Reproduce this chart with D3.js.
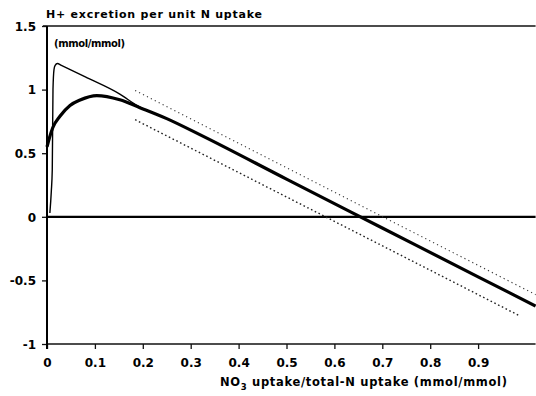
<!DOCTYPE html>
<html>
<head>
<meta charset="utf-8">
<script src="https://cdn.jsdelivr.net/npm/d3@7"></script>
<style>
  html, body { margin: 0; padding: 0; background: #fff; }
  svg { display: block; }
  text { font-family: "DejaVu Sans", "Liberation Sans", Arial, sans-serif; font-weight: bold; fill: #000; }
</style>
</head>
<body>
<svg id="chart" width="536" height="396"></svg>
<script>
// ---- data ----
const xTickValues = [0, 0.1, 0.2, 0.3, 0.4, 0.5, 0.6, 0.7, 0.8, 0.9];
const xTickLabels = ["0", "0.1", "0.2", "0.3", "0.4", "0.5", "0.6", "0.7", "0.8", "0.9"];
const yTickValues = [-1, -0.5, 0, 0.5, 1, 1.5];
const yTickLabels = ["-1", "-0.5", "0", "0.5", "1", "1.5"];

// thick solid curve
const thickX = [0, 0.005, 0.012, 0.027, 0.048, 0.069, 0.104, 0.152, 0.194, 0.25, 0.319, 0.5, 0.7, 0.9, 1.02];
const thickY = [0.55, 0.62, 0.7, 0.79, 0.875, 0.918, 0.953, 0.92, 0.858, 0.772, 0.646, 0.296, -0.088, -0.472, -0.702];

// thin solid curve
const thinX = [0.006, 0.009, 0.011, 0.0125, 0.0146, 0.017, 0.0215, 0.03, 0.08, 0.152, 0.19, 0.25, 0.319];
const thinY = [0.03, 0.2, 0.37, 1.0, 1.157, 1.19, 1.205, 1.19, 1.10, 0.965, 0.87, 0.772, 0.646];

// upper dotted line
const upperX = [0.184, 1.02];
const upperY = [0.993, -0.612];

// lower dotted line
const lowerX = [0.184, 0.987];
const lowerY = [0.763, -0.779];

const yTitle = "H+ excretion per unit N uptake";
const yUnit = "(mmol/mmol)";

// ---- drawing ----
const svg = d3.select("#chart");
const x = d3.scaleLinear().domain([0, 1]).range([47, 526]);
const y = d3.scaleLinear().domain([-1, 1.5]).range([344, 26]);
const xEnd = 1.02;

// frame: top line, zero line
svg.append("line").attr("x1", x(0) - 4).attr("x2", x(xEnd)).attr("y1", y(1.5)).attr("y2", y(1.5))
  .attr("stroke", "#111").attr("stroke-width", 1.5);
svg.append("line").attr("x1", x(0)).attr("x2", x(xEnd)).attr("y1", y(0)).attr("y2", y(0))
  .attr("stroke", "#000").attr("stroke-width", 2.2);

// x axis
const xAxis = d3.axisBottom(x).tickValues(xTickValues)
  .tickFormat((d, i) => xTickLabels[i]).tickSize(5).tickSizeOuter(0);
const gx = svg.append("g").attr("transform", `translate(0,${y(-1)})`).call(xAxis);
gx.select(".domain").remove();
gx.append("line").attr("x1", x(0)).attr("x2", x(xEnd)).attr("y1", 0).attr("y2", 0)
  .attr("stroke", "#111").attr("stroke-width", 1.6);
gx.selectAll(".tick line").attr("stroke", "#111").attr("stroke-width", 1.3);
gx.selectAll(".tick text").attr("y", 14).attr("dy", "0.71em")
  .style("font-size", "12px")
  .attr("font-family", null).attr("fill", "#000");

// y axis
const yAxis = d3.axisLeft(y).tickValues(yTickValues)
  .tickFormat((d, i) => yTickLabels[i]).tickSize(5).tickSizeOuter(0);
const gy = svg.append("g").attr("transform", `translate(${x(0)},0)`).call(yAxis);
gy.select(".domain").remove();
gy.append("line").attr("x1", 0).attr("x2", 0).attr("y1", y(1.5)).attr("y2", y(-1) + 5)
  .attr("stroke", "#000").attr("stroke-width", 2);
gy.selectAll(".tick line").attr("stroke", "#111").attr("stroke-width", 1.3);
gy.selectAll(".tick text").attr("x", -11).attr("dy", "0.36em")
  .style("font-size", "12px")
  .attr("font-family", null).attr("fill", "#000");

// curves
const line = d3.line().x(d => x(d[0])).y(d => y(d[1]));
const zip = (a, b) => a.map((v, i) => [v, b[i]]);

svg.append("path").datum(zip(upperX, upperY)).attr("d", line.curve(d3.curveLinear))
  .attr("fill", "none").attr("stroke", "#333").attr("stroke-width", 1.1)
  .attr("stroke-dasharray", "1.2,3.2");
svg.append("path").datum(zip(lowerX, lowerY)).attr("d", line.curve(d3.curveLinear))
  .attr("fill", "none").attr("stroke", "#222").attr("stroke-width", 1.4)
  .attr("stroke-dasharray", "1.6,2.6");
svg.append("path").datum(zip(thinX, thinY)).attr("d", line.curve(d3.curveMonotoneX))
  .attr("fill", "none").attr("stroke", "#000").attr("stroke-width", 1.4);
svg.append("path").datum(zip(thickX, thickY)).attr("d", line.curve(d3.curveMonotoneX))
  .attr("fill", "none").attr("stroke", "#000").attr("stroke-width", 3.2)
  .attr("stroke-linecap", "butt");

// titles
svg.append("text").attr("x", 46).attr("y", 18).style("font-size", "11px")
  .attr("textLength", 216).attr("lengthAdjust", "spacing").text(yTitle);
svg.append("text").attr("x", 54).attr("y", 47).style("font-size", "10px")
  .attr("textLength", 71).attr("lengthAdjust", "spacing").text(yUnit);

const xt = svg.append("text").attr("x", 220).attr("y", 386).style("font-size", "11.5px")
  .attr("textLength", 287).attr("lengthAdjust", "spacing");
xt.append("tspan").text("NO");
xt.append("tspan").attr("dy", 4).style("font-size", "8.5px").text("3");
xt.append("tspan").attr("dy", -4).text(" uptake/total-N uptake (mmol/mmol)");
</script>
</body>
</html>
